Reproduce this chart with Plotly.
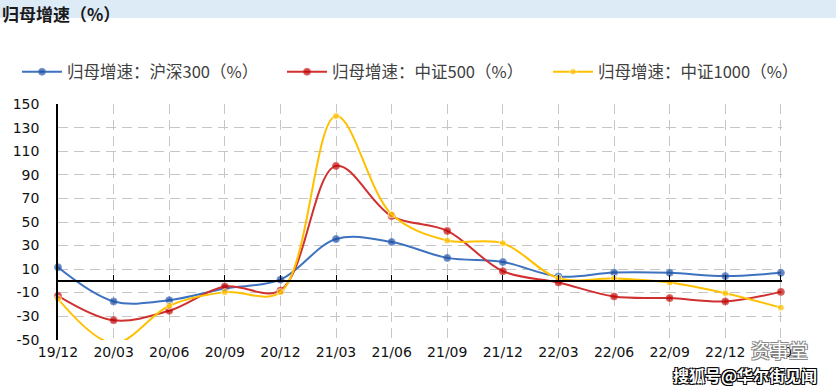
import plotly.graph_objects as go

categories = ["19/12", "20/03", "20/06", "20/09", "20/12", "21/03", "21/06",
              "21/09", "21/12", "22/03", "22/06", "22/09", "22/12", "23/03"]
hs300 = [11.5, -17.5, -16.5, -6.5, 1.0, 35.5, 33.0, 19.5, 16.0, 3.7, 7.0, 6.8, 4.0, 6.8]
zz500 = [-12.7, -33.5, -25.4, -4.8, -8.2, 97.7, 55.0, 42.4, 8.2, -1.4, -13.3, -14.7, -17.5, -9.4]
zz1000 = [-15.3, -53.0, -21.2, -9.6, -9.6, 140.0, 56.5, 34.2, 32.0, 2.2, 2.0, -1.4, -10.5, -22.8]
names = ["归母增速：沪深300（%）", "归母增速：中证500（%）", "归母增速：中证1000（%）"]
y_ticks = list(range(-50, 151, 20))
Y_MIN, Y_MAX = -50, 150

W, H = 836, 391
L, R, T, B = 58, 54, 104, 51
PW, PH = W - L - R, H - T - B


def px_x(p):
    return (p - L) / PW


def px_y(p):
    return (H - B - p) / PH


series = [
    (names[0], hs300, "#3D72C0", "#1F4E9E", "legend"),
    (names[1], zz500, "#D03030", "#C00000", "legend2"),
    (names[2], zz1000, "#FFC000", "#FFC000", "legend3"),
]

fig = go.Figure()
for name, vals, lc, mc, lg in series:
    sizes = [7 if v >= Y_MIN else 0 for v in vals]
    fig.add_trace(go.Scatter(
        x=categories, y=vals, name=name, mode="lines+markers", legend=lg,
        line=dict(color=lc, width=2, shape="spline", smoothing=1.0),
        marker=dict(color=mc, size=sizes, symbol="circle"),
        cliponaxis=False,
    ))

legend_font = dict(family="Noto Sans CJK SC", size=16.5, color="#404040")
legend_common = dict(orientation="h", xanchor="left", y=px_y(72), yanchor="middle",
                     font=legend_font, itemwidth=40, bgcolor="rgba(0,0,0,0)")

grid_color = "#C6C6C6"
fig.update_layout(
    width=W, height=H,
    margin=dict(l=L, r=R, t=T, b=B, autoexpand=False),
    paper_bgcolor="white", plot_bgcolor="white",
    showlegend=True,
    legend=dict(x=px_x(22 - 5), **legend_common),
    legend2=dict(x=px_x(287 - 5), **legend_common),
    legend3=dict(x=px_x(553 - 5), **legend_common),
    xaxis=dict(
        type="category", range=[0, 13.02], showline=False,
        showgrid=True, gridcolor=grid_color, griddash="10px,6px", gridwidth=1,
        ticks="", ticklabelstandoff=2,
        tickfont=dict(family="DejaVu Sans", size=14, color="#111111"),
        zeroline=False, fixedrange=True,
    ),
    xaxis2=dict(
        type="category", overlaying="x", anchor="free",
        position=(0 - Y_MIN) / (Y_MAX - Y_MIN),
        side="bottom", range=[0, 13.02], matches="x",
        showline=True, linecolor="black", linewidth=1.5,
        ticks="inside", ticklen=5, tickcolor="black", tickwidth=1.2,
        showticklabels=False, showgrid=False, zeroline=False,
    ),
    yaxis=dict(
        range=[Y_MIN - 0.3, Y_MAX + 0.3], tickvals=y_ticks, ticktext=[str(v) for v in y_ticks],
        showline=True, linecolor="black", linewidth=1.5,
        showgrid=True, gridcolor=grid_color, griddash="10px,6px", gridwidth=1,
        zeroline=False, ticks="", ticklabelstandoff=14,
        tickfont=dict(family="DejaVu Sans", size=14, color="#111111"),
        fixedrange=True,
    ),
)

# invisible carrier so the zero-level axis is rendered
fig.add_trace(go.Scatter(x=categories, y=hs300, xaxis="x2", mode="lines",
                         line=dict(width=0), opacity=0, showlegend=False,
                         hoverinfo="skip"))

# top banner
fig.add_shape(type="rect", xref="paper", yref="paper",
              x0=px_x(0), x1=px_x(W), y0=px_y(18), y1=px_y(0),
              fillcolor="#DDEBF7", line=dict(width=0), layer="below")
fig.add_annotation(text="归母增速（%）", xref="paper", yref="paper",
                   x=px_x(1), xanchor="left", y=px_y(0), yanchor="top",
                   showarrow=False, borderpad=0,
                   font=dict(family="Noto Sans CJK SC", size=17, color="#1a1a1a", weight="bold"))

# watermark
fig.add_annotation(text="资事堂", xref="paper", yref="paper",
                   x=px_x(779), xanchor="center", y=px_y(349), yanchor="middle",
                   showarrow=False, borderpad=0,
                   font=dict(family="Noto Sans CJK SC", size=19, color="white",
                             shadow="1px 1px 0 #888, -1px -1px 0 #888, 1px -1px 0 #888, -1px 1px 0 #888"))
fig.add_annotation(text="搜狐号@华尔街见闻", xref="paper", yref="paper",
                   x=px_x(745), xanchor="center", y=px_y(375), yanchor="middle",
                   showarrow=False, borderpad=0,
                   font=dict(family="Noto Sans CJK SC", size=16, color="white", weight="bold",
                             shadow="1px 1px 0 #000, -1px -1px 0 #000, 1px -1px 0 #000, -1px 1px 0 #000"))

fig.write_html("out.html", config={"displayModeBar": False},
               post_script="document.body.style.margin='0px';")
